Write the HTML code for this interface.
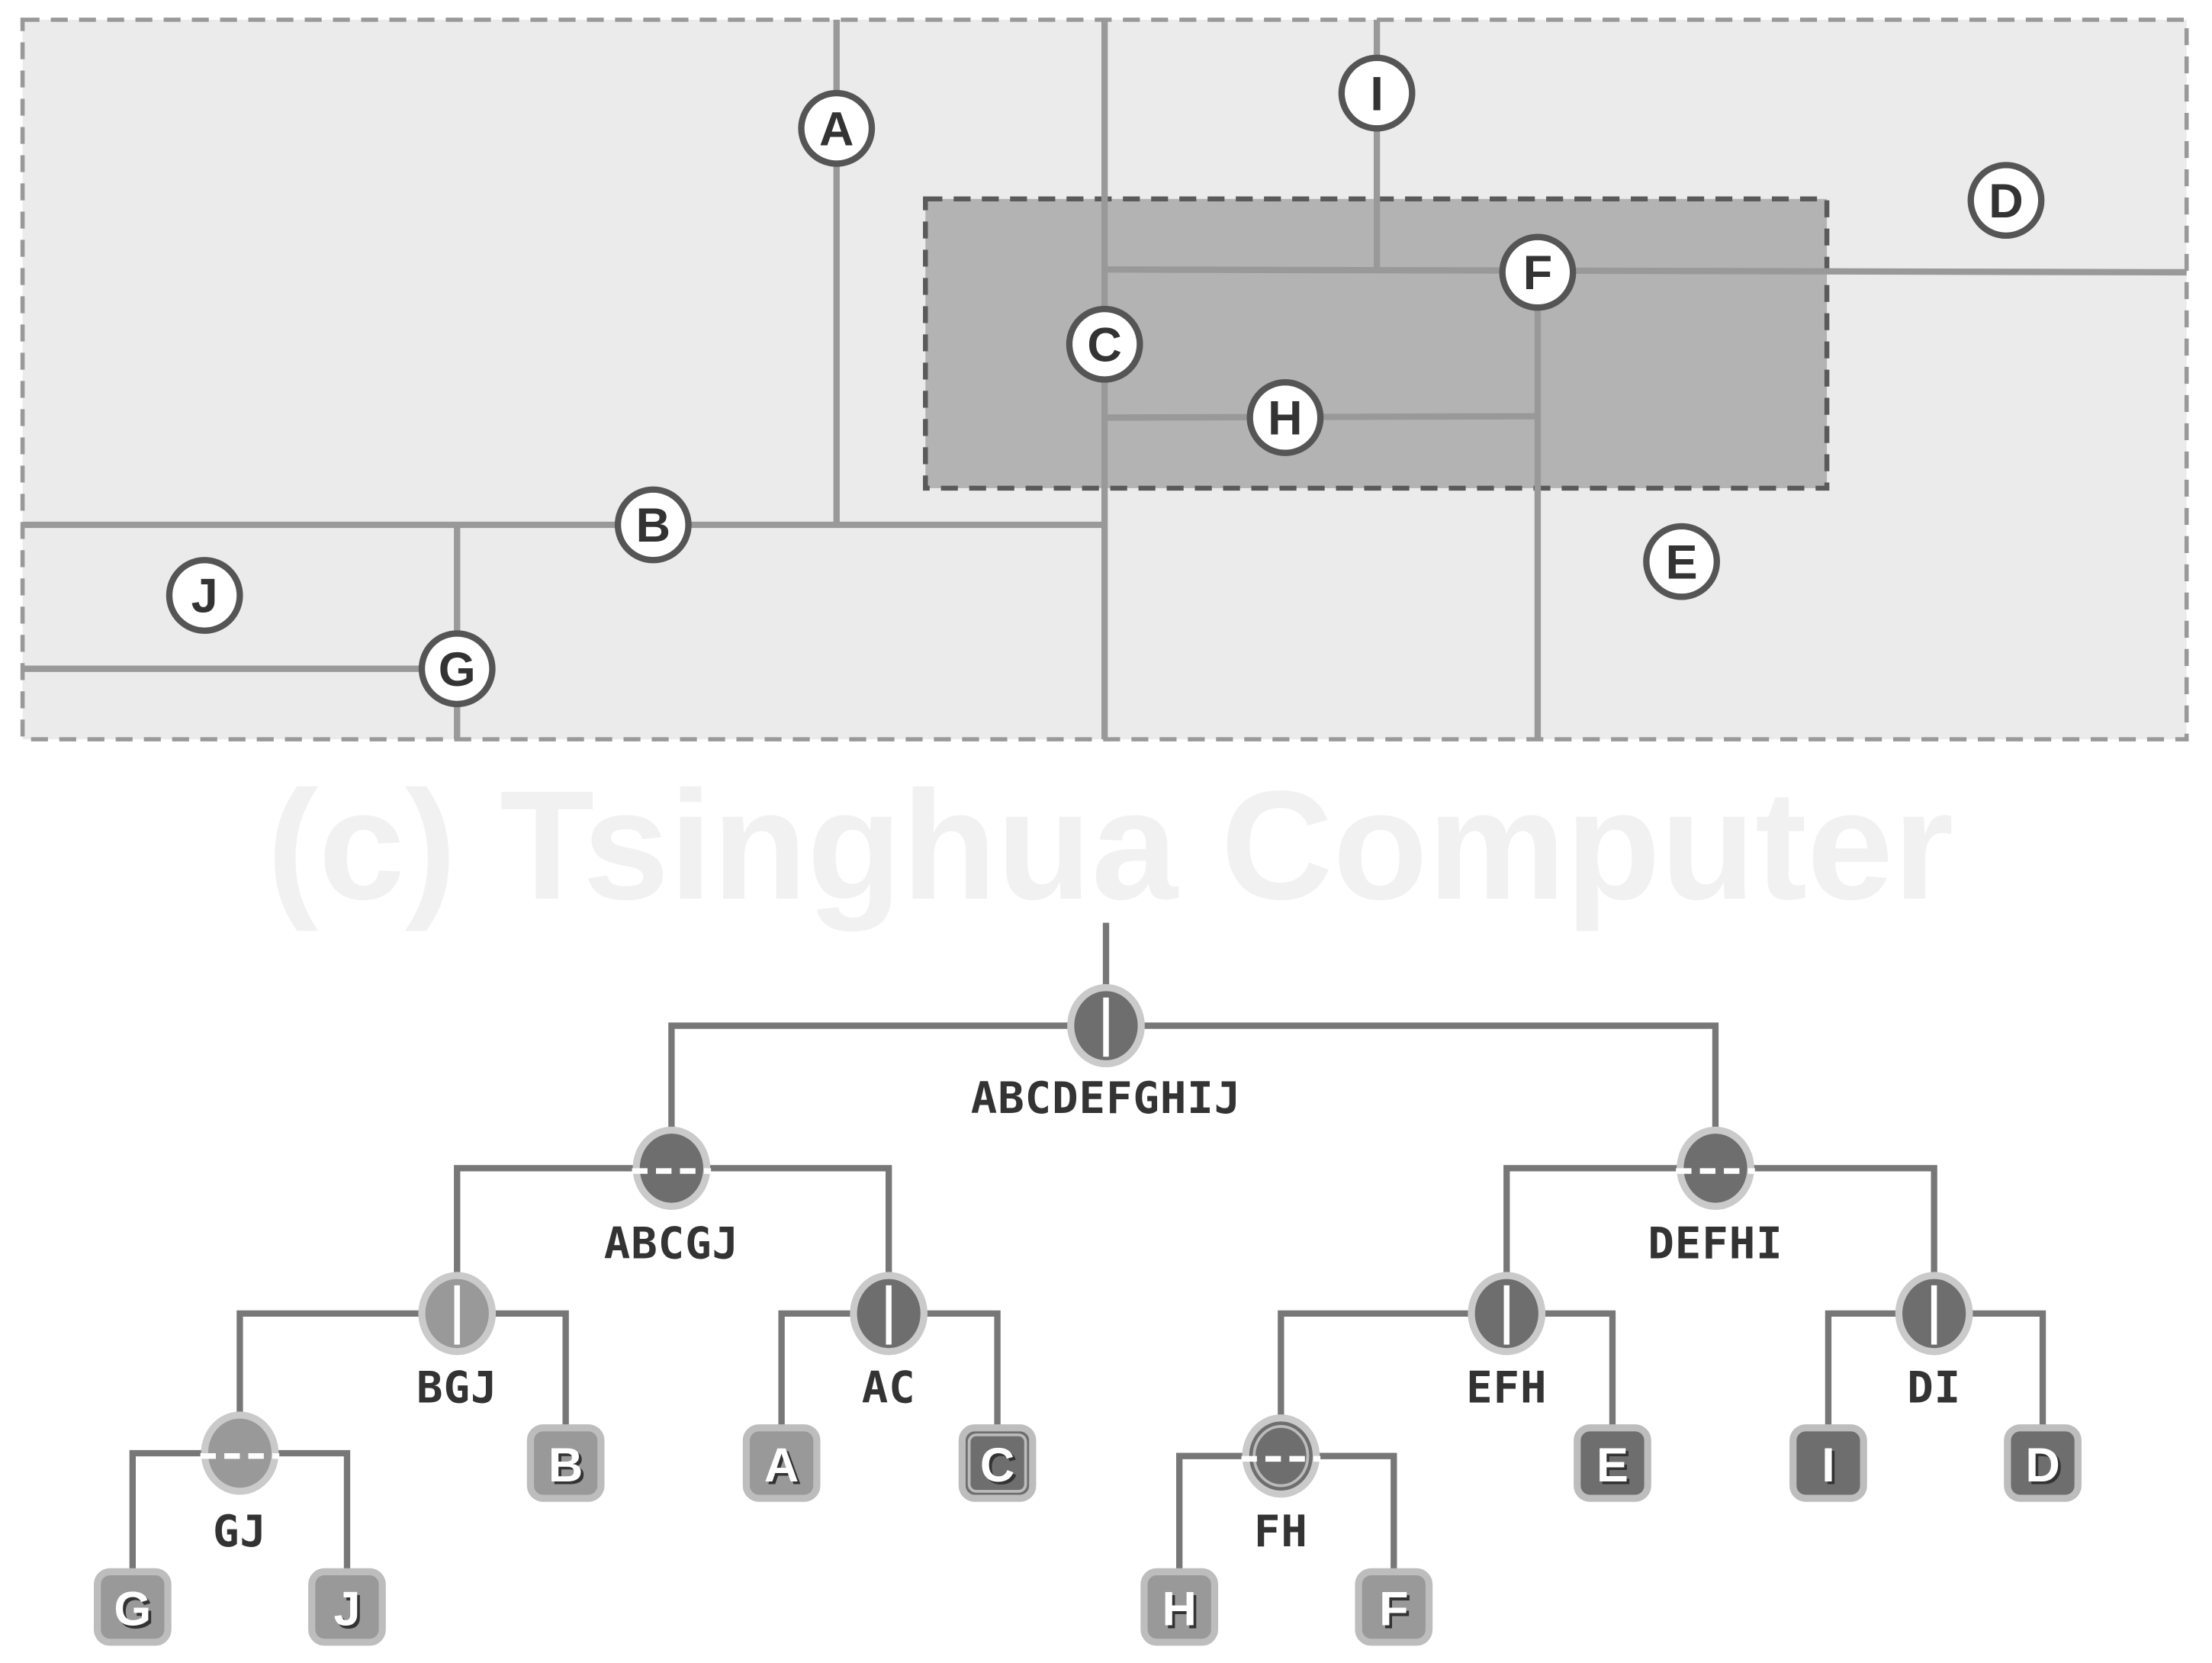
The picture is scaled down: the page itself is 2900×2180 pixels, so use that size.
<!DOCTYPE html>
<html><head><meta charset="utf-8"><style>
html,body{margin:0;padding:0;background:#fff;}
svg{display:block;}
.cl{font-family:"Liberation Sans",sans-serif;font-weight:bold;font-size:34px;fill:#333;text-anchor:middle;}
.tl{font-family:"DejaVu Sans Mono","Liberation Mono",monospace;font-weight:bold;font-size:31px;fill:#333;text-anchor:middle;letter-spacing:0.5px;}
.lf{font-family:"Liberation Sans",sans-serif;font-weight:bold;font-size:34px;fill:#fff;text-anchor:middle;}
.lfs{font-family:"Liberation Sans",sans-serif;font-weight:bold;font-size:34px;fill:#333;text-anchor:middle;}
</style></head><body>
<svg width="2900" height="2180" viewBox="0 0 1568 1178.7" preserveAspectRatio="none" xmlns="http://www.w3.org/2000/svg">
<rect width="1568" height="1179" fill="#fff"/>
<rect x="16" y="14" width="1534" height="510" fill="#ebebeb" stroke="#999" stroke-width="3" stroke-dasharray="12,8"/>
<rect x="656" y="141" width="639" height="205" fill="#b3b3b3" stroke="#5a5a5a" stroke-width="3.5" stroke-dasharray="12,8"/>
<g stroke="#999" stroke-width="4.5" fill="none">
<line x1="593" y1="14" x2="593" y2="372"/>
<line x1="783" y1="14" x2="783" y2="524"/>
<line x1="976" y1="14" x2="976" y2="191"/>
<line x1="783" y1="191" x2="1550" y2="193"/>
<line x1="1090" y1="191" x2="1090" y2="524"/>
<line x1="783" y1="296" x2="1090" y2="295"/>
<line x1="16" y1="372" x2="783" y2="372"/>
<line x1="324" y1="372" x2="324" y2="524"/>
<line x1="16" y1="474" x2="324" y2="474"/>
</g>
<g fill="#fff" stroke="#555" stroke-width="4.5">
<circle cx="593" cy="91" r="25"/><circle cx="783" cy="244" r="25"/><circle cx="976" cy="66" r="25"/>
<circle cx="1090" cy="193" r="25"/><circle cx="911" cy="296" r="25"/><circle cx="463" cy="372" r="25"/>
<circle cx="324" cy="474" r="25"/><circle cx="1422" cy="142" r="25"/><circle cx="1192" cy="398" r="25"/>
<circle cx="145" cy="422" r="25"/>
</g>
<g>
<text x="593" y="103" class="cl">A</text><text x="783" y="256" class="cl">C</text><text x="976" y="78" class="cl">I</text>
<text x="1090" y="205" class="cl">F</text><text x="911" y="308" class="cl">H</text><text x="463" y="384" class="cl">B</text>
<text x="324" y="486" class="cl">G</text><text x="1422" y="154" class="cl">D</text><text x="1192" y="410" class="cl">E</text>
<text x="145" y="434" class="cl">J</text>
</g>
<text x="787" y="637" text-anchor="middle" font-family="Liberation Sans,sans-serif" font-weight="bold" font-size="110" fill="#f1f1f1">(c) Tsinghua Computer</text>
<g stroke="#777" stroke-width="4.5" fill="none">
<line x1="784" y1="654" x2="784" y2="727"/>
<polyline points="476,828 476,727 1216,727 1216,828"/>
<polyline points="324,931 324,828 630,828 630,931"/>
<polyline points="1068,931 1068,828 1371,828 1371,931"/>
<polyline points="170,1030 170,931 401,931 401,1037"/>
<polyline points="554,1037 554,931 707,931 707,1037"/>
<polyline points="908,1032 908,931 1143,931 1143,1037"/>
<polyline points="1296,1037 1296,931 1448,931 1448,1037"/>
<polyline points="94,1139 94,1030 246,1030 246,1139"/>
<polyline points="836,1139 836,1032 988,1032 988,1139"/>
</g>
<g stroke="#cacaca" stroke-width="5">
<ellipse cx="784" cy="727" rx="25" ry="27" fill="#6e6e6e"/>
<ellipse cx="476" cy="828" rx="25" ry="27" fill="#6e6e6e"/>
<ellipse cx="1216" cy="828" rx="25" ry="27" fill="#6e6e6e"/>
<ellipse cx="324" cy="931" rx="25" ry="27" fill="#999"/>
<ellipse cx="630" cy="931" rx="25" ry="27" fill="#6e6e6e"/>
<ellipse cx="1068" cy="931" rx="25" ry="27" fill="#6e6e6e"/>
<ellipse cx="1371" cy="931" rx="25" ry="27" fill="#6e6e6e"/>
<ellipse cx="170" cy="1030" rx="25" ry="27" fill="#999"/>
<ellipse cx="908" cy="1032" rx="25" ry="27" fill="#6e6e6e"/>
</g>
<ellipse cx="908" cy="1032" rx="19" ry="21" fill="none" stroke="#bbb" stroke-width="2"/>
<g stroke="#fff" stroke-width="4">
<line x1="784" y1="707" x2="784" y2="749"/>
<line x1="324" y1="911" x2="324" y2="953"/>
<line x1="630" y1="911" x2="630" y2="953"/>
<line x1="1068" y1="911" x2="1068" y2="953"/>
<line x1="1371" y1="911" x2="1371" y2="953"/>
</g>
<g stroke="#fff" stroke-width="4" stroke-dasharray="11,6">
<line x1="448" y1="830" x2="504" y2="830"/>
<line x1="1188" y1="830" x2="1244" y2="830"/>
<line x1="142" y1="1032" x2="198" y2="1032"/>
<line x1="880" y1="1034" x2="936" y2="1034"/>
</g>
<g>
<text x="784" y="789" class="tl">ABCDEFGHIJ</text>
<text x="476" y="892" class="tl">ABCGJ</text>
<text x="1216" y="892" class="tl">DEFHI</text>
<text x="324" y="994" class="tl">BGJ</text>
<text x="630" y="994" class="tl">AC</text>
<text x="1068" y="994" class="tl">EFH</text>
<text x="1371" y="994" class="tl">DI</text>
<text x="170" y="1096" class="tl">GJ</text>
<text x="908" y="1096" class="tl">FH</text>
</g>
<g stroke="#bdbdbd" stroke-width="5">
<rect x="376" y="1012" width="50" height="50" rx="9" fill="#999"/>
<rect x="529" y="1012" width="50" height="50" rx="9" fill="#999"/>
<rect x="682" y="1012" width="50" height="50" rx="9" fill="#6e6e6e"/>
<rect x="1118" y="1012" width="50" height="50" rx="9" fill="#6e6e6e"/>
<rect x="1271" y="1012" width="50" height="50" rx="9" fill="#6e6e6e"/>
<rect x="1423" y="1012" width="50" height="50" rx="9" fill="#6e6e6e"/>
<rect x="69" y="1114" width="50" height="50" rx="9" fill="#999"/>
<rect x="221" y="1114" width="50" height="50" rx="9" fill="#999"/>
<rect x="811" y="1114" width="50" height="50" rx="9" fill="#999"/>
<rect x="963" y="1114" width="50" height="50" rx="9" fill="#999"/>
</g>
<rect x="687" y="1017" width="40" height="40" rx="5" fill="none" stroke="#bbb" stroke-width="2"/>
<g>
<text x="403" y="1052" class="lfs">B</text><text x="401" y="1050" class="lf">B</text>
<text x="556" y="1052" class="lfs">A</text><text x="554" y="1050" class="lf">A</text>
<text x="709" y="1052" class="lfs">C</text><text x="707" y="1050" class="lf">C</text>
<text x="1145" y="1052" class="lfs">E</text><text x="1143" y="1050" class="lf">E</text>
<text x="1298" y="1052" class="lfs">I</text><text x="1296" y="1050" class="lf">I</text>
<text x="1450" y="1052" class="lfs">D</text><text x="1448" y="1050" class="lf">D</text>
<text x="96" y="1154" class="lfs">G</text><text x="94" y="1152" class="lf">G</text>
<text x="248" y="1154" class="lfs">J</text><text x="246" y="1152" class="lf">J</text>
<text x="838" y="1154" class="lfs">H</text><text x="836" y="1152" class="lf">H</text>
<text x="990" y="1154" class="lfs">F</text><text x="988" y="1152" class="lf">F</text>
</g>
</svg>
</body></html>
